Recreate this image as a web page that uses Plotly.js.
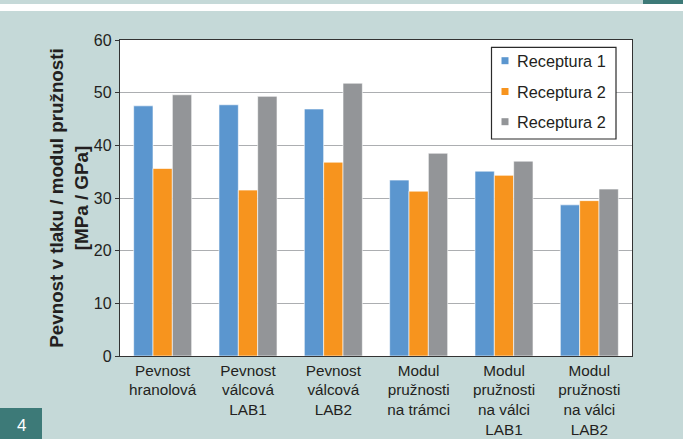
<!DOCTYPE html>
<html>
<head>
<meta charset="utf-8">
<script src="https://cdn.plot.ly/plotly-3.0.1.min.js"></script>
<style>
html,body{margin:0;padding:0;background:#c5d9d8;}
#chart{width:683px;height:439px;}
</style>
</head>
<body>
<div id="chart"></div>
<script>
const categories = [
  "Pevnost<br>hranolová",
  "Pevnost<br>válcová<br>LAB1",
  "Pevnost<br>válcová<br>LAB2",
  "Modul<br>pružnosti<br>na trámci",
  "Modul<br>pružnosti<br>na válci<br>LAB1",
  "Modul<br>pružnosti<br>na válci<br>LAB2"
];
const seriesNames = ["Receptura 1", "Receptura 2", "Receptura 2"];
const receptura1 = [47.5, 47.7, 46.9, 33.4, 35.1, 28.7];
const receptura2 = [35.6, 31.5, 36.8, 31.3, 34.3, 29.5];
const receptura3 = [49.6, 49.3, 51.8, 38.5, 37.0, 31.7];
const yTicks = [0, 10, 20, 30, 40, 50, 60];

const colors = ["#5b96cf", "#f7941e", "#939598"];
const values = [receptura1, receptura2, receptura3];

const font = "Liberation Sans, Arial, Helvetica, sans-serif";
const textColor = "#231f20";

// plot area in pixels (for converting decoration positions to paper coords)
const PL = 120, PR = 632, PT = 40, PB = 356;
const px = v => (v - PL) / (PR - PL);
const py = v => (PB - v) / (PB - PT);

const traces = values.map((v, i) => ({
  type: "bar",
  x: categories,
  y: v,
  name: seriesNames[i],
  marker: {color: colors[i], line: {color: "rgba(255,255,255,0.6)", width: 1}},
  hoverinfo: "y"
}));

// custom legend (box, swatches, labels)
const legendShapes = [
  {type: "rect", xref: "paper", yref: "paper", x0: px(491.5), x1: px(616), y0: py(139), y1: py(47.3),
   fillcolor: "#ffffff", line: {color: "#2b2b2b", width: 1.2}, layer: "above"}
];
const legendAnnots = [];
const legendRows = [60.7, 91.5, 121.7];
seriesNames.forEach((n, i) => {
  const cy = legendRows[i];
  legendShapes.push({type: "rect", xref: "paper", yref: "paper",
    x0: px(505 - 3.5), x1: px(505 + 3.5), y0: py(cy + 3.5), y1: py(cy - 3.5),
    fillcolor: colors[i], line: {width: 0}, layer: "above"});
  legendAnnots.push({xref: "paper", yref: "paper", x: px(514.5), y: py(cy), xanchor: "left", yanchor: "middle",
    text: n, showarrow: false, font: {family: font, size: 16.3, color: textColor}});
});

const layout = {
  width: 683,
  height: 439,
  margin: {l: PL, r: 683 - PR, t: PT, b: 439 - PB},
  paper_bgcolor: "#c5d9d8",
  plot_bgcolor: "#ffffff",
  barmode: "group",
  bargap: 0.32,
  bargroupgap: 0,
  font: {family: font, size: 15, color: textColor},
  showlegend: false,
  xaxis: {
    showline: true, linecolor: "#333333", linewidth: 1.2, mirror: true,
    ticks: "", tickfont: {family: font, size: 15.3, color: textColor},
    fixedrange: true
  },
  yaxis: {
    range: [0, 60],
    tickvals: yTicks,
    ticktext: yTicks.map(String),
    showline: true, linecolor: "#333333", linewidth: 1.2, mirror: true,
    ticks: "outside", ticklen: 4, tickcolor: "#333333",
    showgrid: true, gridcolor: "#acaeb1", gridwidth: 1,
    zeroline: false,
    tickfont: {family: font, size: 16, color: textColor},
    title: {
      text: "<b>Pevnost v tlaku / modul pružnosti<br>[MPa / GPa]</b>",
      font: {family: font, size: 18.8, color: textColor},
      standoff: 0
    },
    fixedrange: true
  },
  shapes: [
    {type: "rect", xref: "paper", yref: "paper", x0: -0.3, x1: 1.2, y0: py(11), y1: py(4),
     fillcolor: "#ffffff", line: {width: 0}, layer: "below"},
    {type: "rect", xref: "paper", yref: "paper", x0: px(643), x1: 1.2, y0: py(4), y1: 1.2,
     fillcolor: "#3d7a78", line: {width: 0}, layer: "below"},
    {type: "rect", xref: "paper", yref: "paper", x0: -0.3, x1: px(42), y0: -0.4, y1: py(408),
     fillcolor: "#3d7a78", line: {width: 0}, layer: "below"}
  ].concat(legendShapes),
  annotations: [
    {xref: "paper", yref: "paper", x: px(21), y: py(425), xanchor: "center", yanchor: "middle",
     text: "4", showarrow: false, font: {family: font, size: 17, color: "#ffffff"}}
  ].concat(legendAnnots)
};

Plotly.newPlot("chart", traces, layout, {displayModeBar: false, staticPlot: true});
</script>
</body>
</html>
